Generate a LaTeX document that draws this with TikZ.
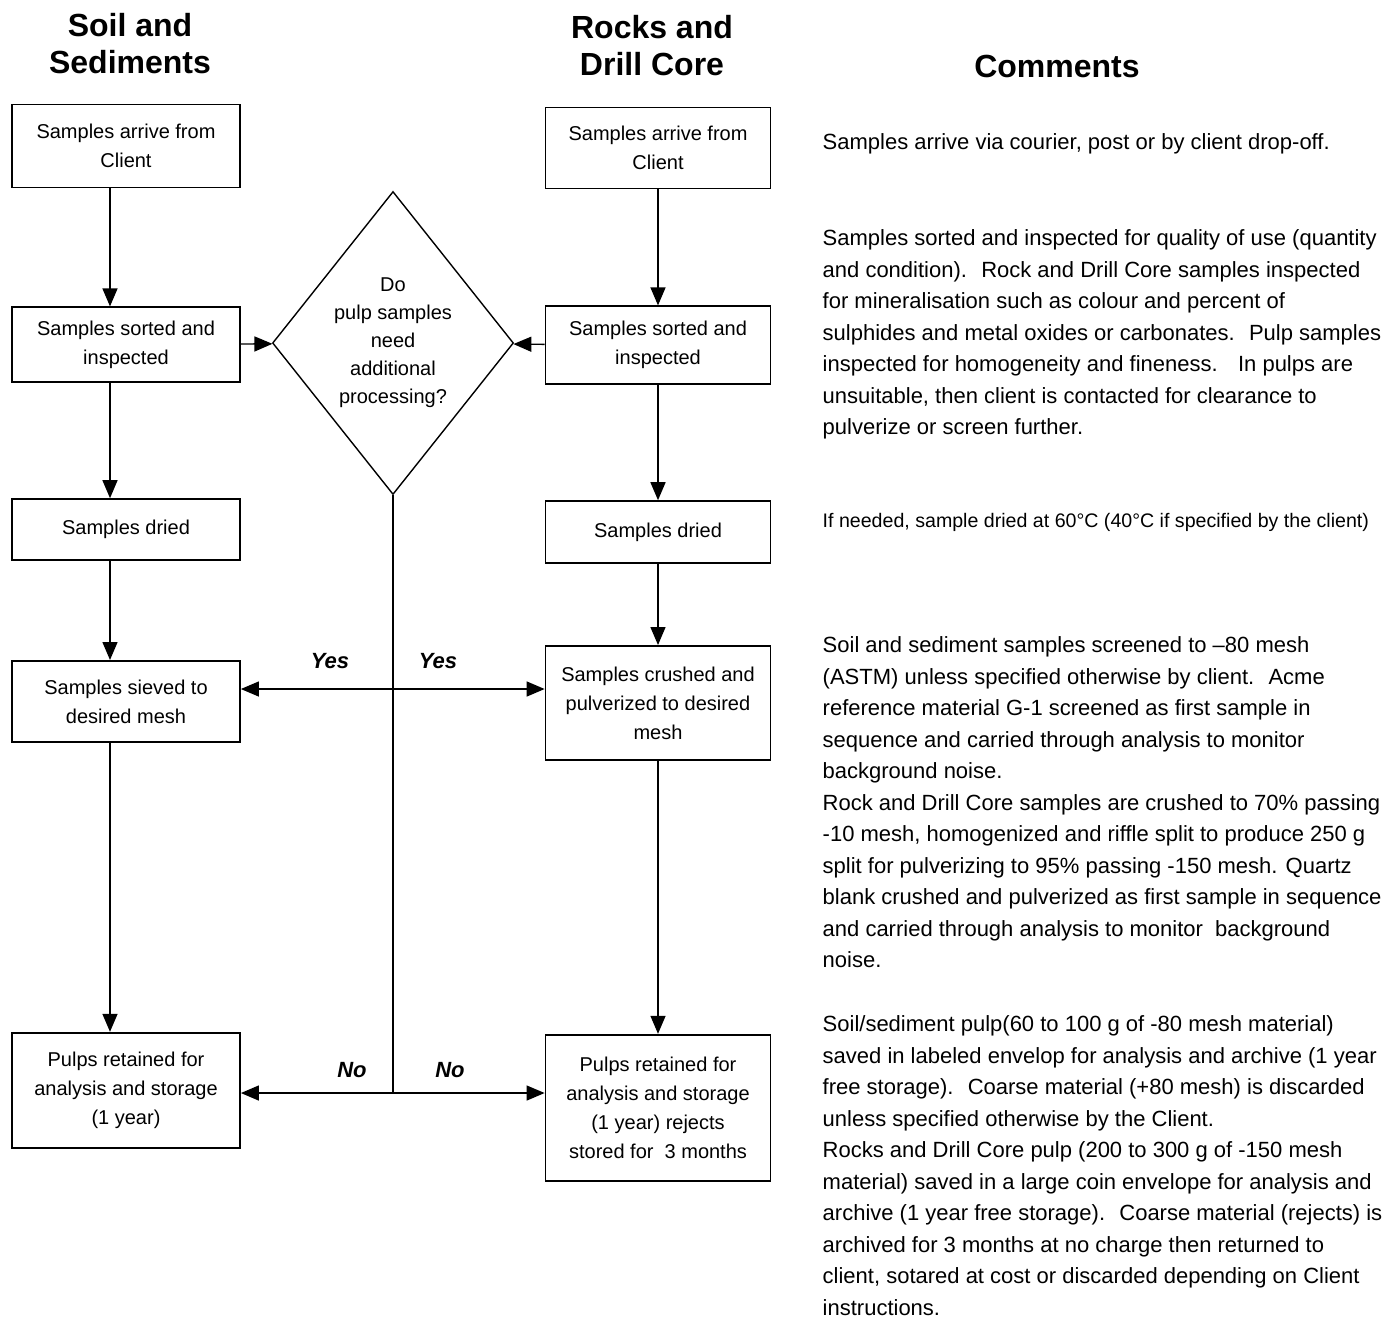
\documentclass[tikz,border=0pt]{standalone}
\usepackage{fontspec}
\setmainfont{Liberation Sans}
\usetikzlibrary{arrows.meta,positioning,shapes.geometric}

\begin{document}
\begin{tikzpicture}[x=0.5pt,y=-0.5pt,>={Triangle[length=9pt,width=7.5pt]},line width=0.7pt,
      proc box/.style={rectangle,draw,line width=0.9pt,align=center,inner sep=2pt,
        font=\fontsize{10pt}{14.5pt}\selectfont},
      soil box/.style={proc box,minimum width=114pt},
      rock box/.style={proc box,minimum width=112.5pt},
      decision/.style={diamond,draw,align=center,inner sep=0pt,aspect=0.8,
        minimum width=120.5pt,minimum height=151.5pt,
        font=\fontsize{10pt}{14pt}\selectfont},
      head text/.style={align=center,font=\fontsize{16pt}{18.5pt}\selectfont\bfseries},
      comment text/.style={anchor=north west,align=left,inner sep=0pt,
        font=\fontsize{11pt}{15.75pt}\selectfont},
      answer/.style={font=\fontsize{11pt}{13pt}\selectfont\bfseries\itshape}]
  \useasboundingbox (0,0) rectangle (1384,1318);

  % headings
  \node[head text] (hsoil) at (130,44) {Soil and\\Sediments};
  \node[head text] (hrock) at (652,46) {Rocks and\\Drill Core};
  \node[head text] (hcom) at (1057,66) {Comments};

  % soil and sediments column
  \node[soil box,minimum height=41.5pt] (s1) at (126,146) {Samples arrive from\\Client};
  \node[soil box,minimum height=37.5pt] (s2) [below=59pt of s1] {Samples sorted and\\inspected};
  \node[soil box,minimum height=30.5pt] (s3) [below=57.5pt of s2] {Samples dried};
  \node[soil box,minimum height=40.5pt] (s4) [below=49.5pt of s3] {Samples sieved to\\desired mesh};
  \node[soil box,minimum height=57.5pt] (s5) [below=144.5pt of s4] {Pulps retained for\\analysis and storage\\(1 year)};

  % rocks and drill core column
  \node[rock box,minimum height=40.5pt] (r1) at (658,148) {Samples arrive from\\Client};
  \node[rock box,minimum height=39pt] (r2) [below=58pt of r1] {Samples sorted and\\inspected};
  \node[rock box,minimum height=31pt] (r3) [below=57.5pt of r2] {Samples dried};
  \node[rock box,minimum height=57pt] (r4) [below=40.5pt of r3] {Samples crushed and\\pulverized to desired\\mesh};
  \node[rock box,minimum height=73pt] (r5) [below=136.5pt of r4] {Pulps retained for\\analysis and storage\\(1 year) rejects\\stored for~~3 months};

  % decision
  \node[decision] (dec) at (393,343) {Do\\pulp samples\\need\\additional\\processing?};
  \coordinate (scol) at (110,0);
  \coordinate (yes) at (393,689);
  \coordinate (no) at (393,1093);

  \path[->]
    (s1.south -| scol) edge (s2.north -| scol)
    (s2.south -| scol) edge (s3.north -| scol)
    (s3.south -| scol) edge (s4.north -| scol)
    (s4.south -| scol) edge (s5.north -| scol)
    (r1) edge (r2)
    (r2) edge (r3)
    (r3) edge (r4)
    (r4) edge (r5)
    (s2) edge (dec)
    (r2) edge (dec)
    (yes) edge (yes -| s4.east)
    (yes) edge (yes -| r4.west)
    (no) edge (no -| s5.east)
    (no) edge (no -| r5.west);
  \draw (dec.south) -- (no);

  \node[answer] (yesl) at (330,661) {Yes};
  \node[answer] (yesr) at (438,661) {Yes};
  \node[answer] (nol) at (352,1070) {No};
  \node[answer] (nor) at (450,1070) {No};

  % comments
  \node[comment text] (c1) at (822,133) {Samples arrive via courier, post or by client drop-off.};
  \node[comment text] (c2) at (822,229) {Samples sorted and inspected for quality of use (quantity\\
    and condition). \ Rock and Drill Core samples inspected\\
    for mineralisation such as colour and percent of\\
    sulphides and metal oxides or carbonates. \ Pulp samples\\
    inspected for homogeneity and fineness. \ \ In pulps are\\
    unsuitable, then client is contacted for clearance to\\
    pulverize or screen further.};
  \node[comment text,font=\fontsize{9.8pt}{12pt}\selectfont] (c3) at (822,513) {If needed, sample dried at 60°C (40°C if specified by the client)};
  \node[comment text] (c4) at (822,636) {Soil and sediment samples screened to –80 mesh\\
    (ASTM) unless specified otherwise by client. \ Acme\\
    reference material G-1 screened as first sample in\\
    sequence and carried through analysis to monitor\\
    background noise.\\
    Rock and Drill Core samples are crushed to 70\% passing\\
    -10 mesh, homogenized and riffle split to produce 250 g\\
    split for pulverizing to 95\% passing -150 mesh. Quartz\\
    blank crushed and pulverized as first sample in sequence\\
    and carried through analysis to monitor \ background\\
    noise.};
  \node[comment text] (c5) at (822,1015) {Soil/sediment pulp(60 to 100 g of -80 mesh material)\\
    saved in labeled envelop for analysis and archive (1 year\\
    free storage). \ Coarse material (+80 mesh) is discarded\\
    unless specified otherwise by the Client.\\
    Rocks and Drill Core pulp (200 to 300 g of -150 mesh\\
    material) saved in a large coin envelope for analysis and\\
    archive (1 year free storage). \ Coarse material (rejects) is\\
    archived for 3 months at no charge then returned to\\
    client, sotared at cost or discarded depending on Client\\
    instructions.};
\end{tikzpicture}
\end{document}
